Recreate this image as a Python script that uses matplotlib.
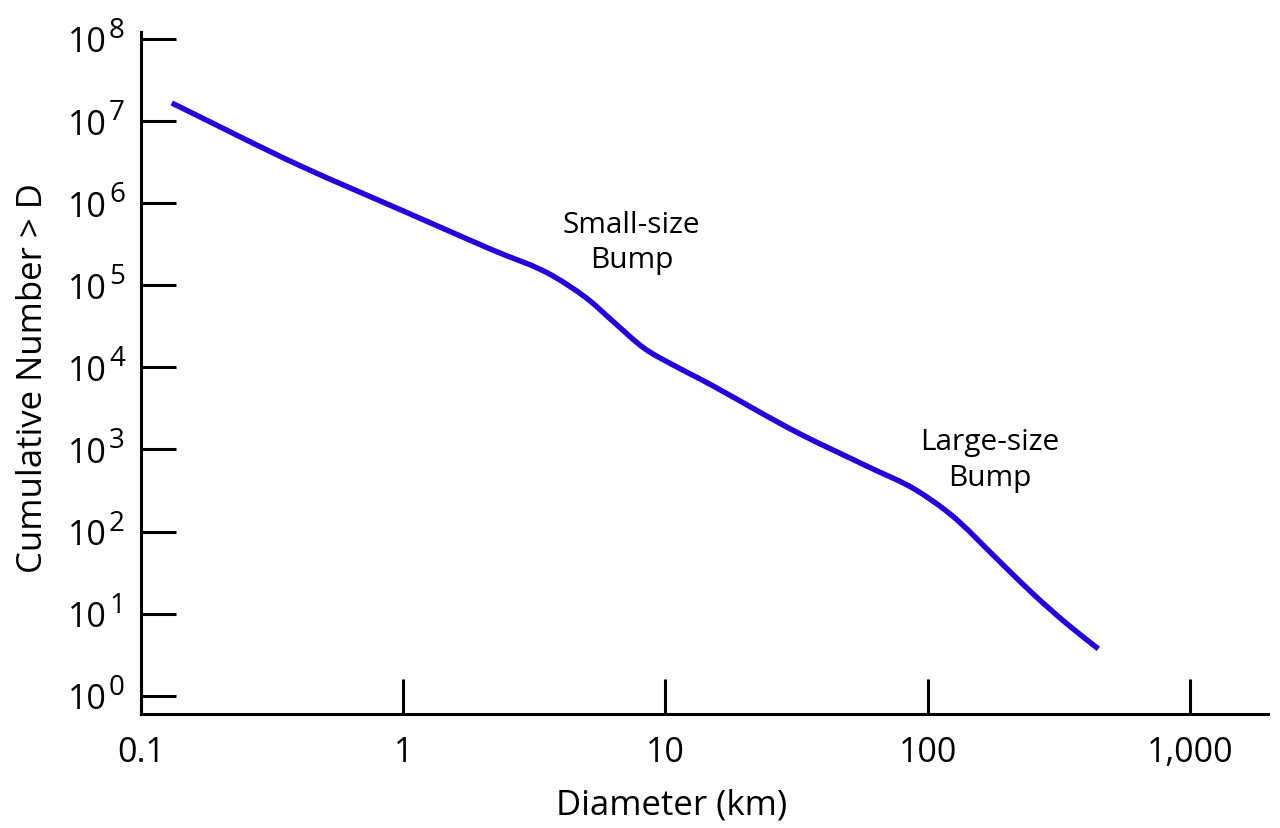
import numpy as np
import matplotlib
matplotlib.use("Agg")
import matplotlib.pyplot as plt
from matplotlib import transforms
from matplotlib.path import Path
from matplotlib.patches import PathPatch
from matplotlib.ticker import NullLocator, FixedLocator

# ---- data ----
diameter_km = [0.131, 0.404, 1.0, 2.143, 3.793, 5.158, 6.311, 8.359, 10.69,
               13.55, 32.61, 60.30, 89.50, 121.7, 188.9, 252.3, 340.1, 447.7]
cumulative_number = [1.662e7, 2.863e6, 8.04e5, 2.77e5, 1.255e5, 6.44e4,
                     3.63e4, 1.68e4, 1.070e4, 7.22e3, 1.545e3, 600, 325.7,
                     163.8, 42.6, 17.4, 7.49, 3.72]

x_ticks = [0.1, 1, 10, 100, 1000]
x_tick_labels = ["0.1", "1", "10", "100", "1,000"]
y_exponents = [0, 1, 2, 3, 4, 5, 6, 7, 8]

annotations = [("Small-size", "Bump"), ("Large-size", "Bump")]

x_label = "Diameter (km)"
y_label = "Cumulative Number > D"

FONT = ["Open Sans", "DejaVu Sans"]
plt.rcParams["font.family"] = FONT

fig = plt.figure(figsize=(12.8, 8.29), dpi=100)
W, H = 1280, 829
left, right, top, bottom = 141, 1268, 33, 715
ax = fig.add_axes([left / W, (H - bottom) / H, (right - left) / W, (bottom - top) / H])

ax.set_xscale("log")
ax.set_yscale("log")
ax.set_xlim(0.1, 10 ** 3.298)
ax.set_ylim(10 ** -0.223, 10 ** 8.085)


def smooth_path(xs, ys):
    """Smooth curve through the points: cubic Bezier segments (three-point
    Hermite tangents in log-log space), drawn by matplotlib's Path."""
    lx, ly = np.log10(xs), np.log10(ys)
    h = np.diff(lx)
    d = np.diff(ly) / h
    m = np.empty_like(lx)
    m[0], m[-1] = d[0], d[-1]
    for k in range(1, len(lx) - 1):
        m[k] = (h[k] * d[k - 1] + h[k - 1] * d[k]) / (h[k - 1] + h[k])
    verts = [(xs[0], ys[0])]
    codes = [Path.MOVETO]
    for k in range(len(lx) - 1):
        c1 = (lx[k] + h[k] / 3, ly[k] + m[k] * h[k] / 3)
        c2 = (lx[k + 1] - h[k] / 3, ly[k + 1] - m[k + 1] * h[k] / 3)
        verts += [(10 ** c1[0], 10 ** c1[1]), (10 ** c2[0], 10 ** c2[1]),
                  (xs[k + 1], ys[k + 1])]
        codes += [Path.CURVE4] * 3
    return Path(verts, codes)


ax.add_patch(PathPatch(smooth_path(diameter_km, cumulative_number),
                       facecolor="none", edgecolor="#2200dd", lw=3.9,
                       capstyle="butt", joinstyle="round"))

for s in ("top", "right"):
    ax.spines[s].set_visible(False)
for s in ("left", "bottom"):
    ax.spines[s].set_linewidth(2.2)
    ax.spines[s].set_color("black")

ax.xaxis.set_major_locator(FixedLocator(x_ticks))
ax.xaxis.set_minor_locator(NullLocator())
ax.set_xticklabels(x_tick_labels)
ax.yaxis.set_major_locator(FixedLocator([10.0 ** e for e in y_exponents]))
ax.yaxis.set_minor_locator(NullLocator())
ax.set_yticklabels([])

ax.tick_params(axis="both", which="major", direction="in", length=25,
               width=2.2, color="black")
ax.tick_params(axis="x", labelsize=24.5, pad=15)
ax.tick_params(axis="y", labelleft=False)

# y tick labels drawn as 10 with superscript exponent
trans = transforms.blended_transform_factory(ax.transAxes, ax.transData)
px = 72 / 100
for e in y_exponents:
    ax.annotate("10", xy=(0, 10.0 ** e), xycoords=trans,
                xytext=(-34 * px, -12.5 * px), textcoords="offset points",
                ha="right", va="baseline", fontsize=24.5)
    ax.annotate(str(e), xy=(0, 10.0 ** e), xycoords=trans,
                xytext=(-32 * px, 2 * px), textcoords="offset points",
                ha="left", va="baseline", fontsize=20)

# axis labels
ax.set_xlabel(x_label, fontsize=25, va="baseline")
ax.xaxis.set_label_coords((672 - left) / (right - left), -(815 - bottom) / (bottom - top))
ax.set_ylabel(y_label, fontsize=25, va="baseline", rotation_mode="anchor")
ax.yaxis.set_label_coords((41.7 - left) / (right - left), (bottom - 378) / (bottom - top))

# annotations (two lines each, placed by baseline)
ann_pos = [((631.5 - left) / (right - left), [(bottom - 233.3) / (bottom - top), (bottom - 267.7) / (bottom - top)]),
           ((990 - left) / (right - left), [(bottom - 450) / (bottom - top), (bottom - 486.5) / (bottom - top)])]
for (l1, l2), (xf, (y1, y2)) in zip(annotations, ann_pos):
    ax.text(xf, y1, l1, transform=ax.transAxes, ha="center", va="baseline", fontsize=21.5)
    ax.text(xf, y2, l2, transform=ax.transAxes, ha="center", va="baseline", fontsize=21.5)

fig.savefig("out.png", dpi=100)
